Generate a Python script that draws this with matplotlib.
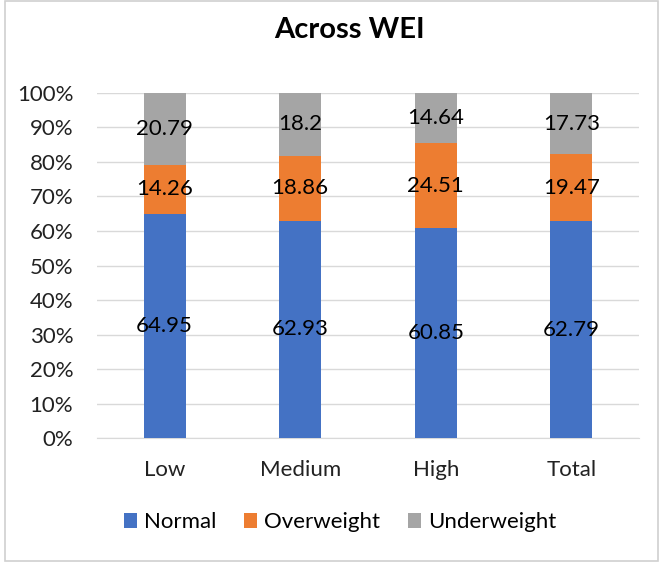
import matplotlib.pyplot as plt
import numpy as np
from matplotlib.patches import Rectangle

groups = ["Low", "Medium", "High", "Total"]
normal = [64.95, 62.93, 60.85, 62.79]
overweight = [14.26, 18.86, 24.51, 19.47]
underweight = [20.79, 18.2, 14.64, 17.73]
ticks = [0, 10, 20, 30, 40, 50, 60, 70, 80, 90, 100]

plt.rcParams['font.family'] = ['Lato', 'DejaVu Sans']

fig = plt.figure(figsize=(6.59, 5.81), dpi=100)
ax = fig.add_axes([0.147, 0.246, 0.823, 0.594])

x = np.arange(len(groups))
w = 0.31
series = [("Normal", normal, "#4472C4"),
          ("Overweight", overweight, "#ED7D31"),
          ("Underweight", underweight, "#A5A5A5")]
bottom = np.zeros(len(groups))
for name, vals, col in series:
    vals = np.array(vals)
    ax.bar(x, vals, w, bottom=bottom, color=col, label=name, zorder=3)
    for xi, b, v in zip(x, bottom, vals):
        ax.text(xi, b + v / 2, f"{v:g}", ha="center", va="center",
                fontsize=16, color="black", zorder=4)
    bottom += vals

ax.set_xlim(-0.5, len(groups) - 0.5)
ax.set_ylim(0, 100)
ax.set_yticks(ticks)
ax.set_yticklabels([f"{t}%" for t in ticks])
ax.set_xticks(x)
ax.set_xticklabels(groups)
ax.tick_params(length=0, labelsize=16, colors="#222222")
ax.tick_params(axis="y", pad=17)
ax.tick_params(axis="x", pad=16)
ax.grid(axis="y", color="#d9d9d9", lw=1, zorder=0)
for s in ["top", "right", "left"]:
    ax.spines[s].set_visible(False)
ax.spines["bottom"].set_color("#d9d9d9")

fig.text(0.531, 0.948, "Across WEI", fontsize=21, fontweight="bold",
         ha="center", va="center")

fig.legend(loc="center", bbox_to_anchor=(0.516, 0.101), ncol=3, frameon=False,
           fontsize=16, handlelength=0.6, handleheight=0.6, handletextpad=0.3,
           columnspacing=1.25)

fig.patches.append(Rectangle((0.008, 0.035), 0.99, 0.963, transform=fig.transFigure,
                             fill=False, edgecolor="#d0d0d0", lw=1.2))

fig.savefig("out.png", dpi=100)
